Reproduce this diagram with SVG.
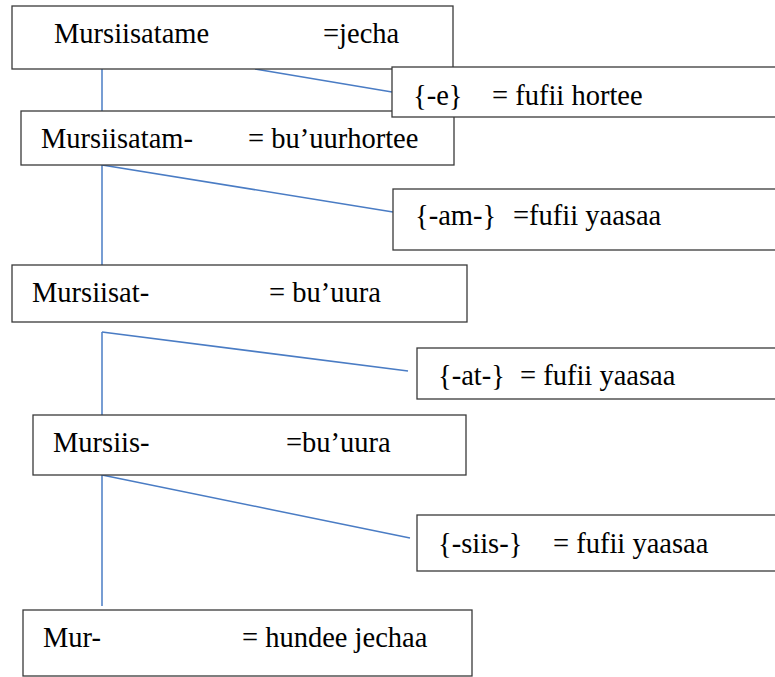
<svg xmlns="http://www.w3.org/2000/svg" width="775" height="677" viewBox="0 0 775 677">
<style>
.box{fill:#fff;stroke:#3a3a3a;stroke-width:1.3}
.t{font-family:'Liberation Serif','Times New Roman',serif;font-size:28.5px;fill:#000}
.c{stroke:#4a7cc4;stroke-width:1.5;fill:none}
</style>
<rect width="775" height="677" fill="#fff"/>
<g id="connectors">
<line class="c" x1="102" y1="69" x2="102" y2="111"/>
<line class="c" x1="255" y1="69" x2="392" y2="92"/>
<line class="c" x1="102" y1="165" x2="102" y2="265"/>
<line class="c" x1="102" y1="165" x2="393" y2="212"/>
<line class="c" x1="102" y1="332" x2="102" y2="415"/>
<line class="c" x1="102" y1="332" x2="408" y2="371"/>
<line class="c" x1="102" y1="475" x2="102" y2="606"/>
<line class="c" x1="102" y1="475" x2="410" y2="538"/>
</g>
<g id="n1"><rect class="box" x="12" y="6" width="441" height="63"/><text class="t" x="54" y="43">Mursiisatame</text><text class="t" x="323" y="43">=jecha</text></g>
<g id="n2"><rect class="box" x="21" y="111" width="433" height="54"/><text class="t" x="41" y="148">Mursiisatam-</text><text class="t" x="248" y="148">= bu’uurhortee</text></g>
<g id="m1"><rect class="box" x="392" y="67" width="390" height="50"/><text class="t" x="413" y="105">{-e}</text><text class="t" x="492" y="105">= fufii hortee</text></g>
<g id="m2"><rect class="box" x="393" y="189" width="390" height="61"/><text class="t" x="415" y="225">{-am-}</text><text class="t" x="513" y="225">=fufii yaasaa</text></g>
<g id="n3"><rect class="box" x="12" y="265" width="455" height="57"/><text class="t" x="32" y="302">Mursiisat-</text><text class="t" x="269" y="302">= bu’uura</text></g>
<g id="m3"><rect class="box" x="417" y="348" width="370" height="51"/><text class="t" x="438" y="385">{-at-}</text><text class="t" x="520" y="385">= fufii yaasaa</text></g>
<g id="n4"><rect class="box" x="33" y="415" width="433" height="60"/><text class="t" x="53" y="452">Mursiis-</text><text class="t" x="286" y="452">=bu’uura</text></g>
<g id="m4"><rect class="box" x="417" y="515" width="370" height="56"/><text class="t" x="438" y="553">{-siis-}</text><text class="t" x="553" y="553">= fufii yaasaa</text></g>
<g id="n5"><rect class="box" x="23" y="610" width="449" height="66"/><text class="t" x="43" y="647">Mur-</text><text class="t" x="242" y="647">= hundee jechaa</text></g>
</svg>
